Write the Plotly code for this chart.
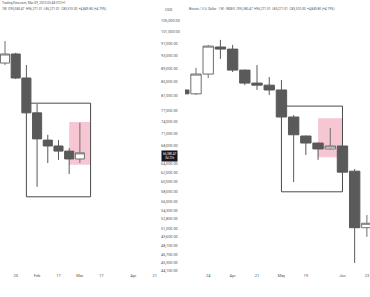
import math
import pandas as pd
import plotly.graph_objects as go

# ---------------- data: left panel (weekly) ----------------
left_dates = ["2025-01-13", "2025-01-20", "2025-01-27", "2025-02-03",
              "2025-02-10", "2025-02-17", "2025-02-24", "2025-03-03"]
left_open = [90700, 93600, 86100, 76300, 69400, 68000, 66800, 65000]
left_high = [97900, 94000, 90100, 78700, 70700, 69400, 67500, 73700]
left_low = [90100, 85800, 76000, 59000, 64100, 64800, 61700, 64100]
left_close = [93600, 86100, 76300, 69700, 68000, 66800, 65000, 66400]

left_tick_dates = ["2025-01-20", "2025-02-03", "2025-02-17", "2025-03-03",
                   "2025-03-17", "2025-04-07", "2025-04-21"]
left_tick_text = ["20", "Feb", "17", "Mar", "17", "Apr", "21"]

left_box_x = ["2025-01-27", "2025-03-10"]
left_box_y = [57000, 78900]
left_pink_x = ["2025-02-24", "2025-03-10"]
left_pink_y = [63700, 73900]

# ---------------- data: right panel (weekly) ----------------
right_dates = ["2025-03-10", "2025-03-17", "2025-03-24", "2025-03-31",
               "2025-04-07", "2025-04-14", "2025-04-21", "2025-04-28",
               "2025-05-05", "2025-05-12", "2025-05-19", "2025-05-26",
               "2025-06-02", "2025-06-09", "2025-06-16", "2025-06-23"]
right_open = [82600, 81500, 87300, 95900, 95200, 88500, 84600, 84000,
              82600, 75200, 70400, 68700, 67300, 68000, 62300, 51200]
right_high = [82600, 89200, 96600, 98300, 96600, 88700, 90100, 86400,
              85500, 75700, 70500, 68800, 72400, 68100, 62800, 53500]
right_low = [81500, 81200, 86100, 92000, 87900, 84000, 82600, 81200,
             75000, 60000, 65900, 64800, 67100, 62000, 45300, 49600]
right_close = [81500, 87300, 96200, 95200, 88500, 84600, 84000, 82600,
               75200, 70700, 68700, 67300, 68000, 62100, 51200, 52000]

right_tick_dates = ["2025-03-24", "2025-04-07", "2025-04-21", "2025-05-05",
                    "2025-05-19", "2025-06-09", "2025-06-23"]
right_tick_text = ["24", "Apr", "21", "May", "19", "Jun", "23"]

right_box_x = ["2025-05-05", "2025-06-09"]
right_box_y = [58000, 78100]
right_pink_x = ["2025-05-26", "2025-06-09"]
right_pink_y = [65400, 74900]

# price scale labels
price_ticks = [105000, 101000, 97000, 93000, 89000, 85000, 81000, 77000,
               74000, 71000, 68000, 64000, 62000, 60000, 58000, 56000,
               54300, 52800, 51000, 49600, 48100, 46700, 45300, 44100]
price_text = [f"{v:,.2f}" for v in price_ticks]

last_price_text = "66,380.47<br>3d 21h"
last_price = 65700

# ---------------- styles ----------------
W, H = 370, 297
PLOT_H = 272
DARK = "#5a5a5a"
WHITE_EDGE = "#6e6e6e"
PINK = "#f7c6d3"
BOX = "#4a4a4a"
TXT = "#555555"
FONT = "Roboto"

y_range = [math.log10(43900), math.log10(112900)]

fig = go.Figure()

candle_style = dict(
    increasing=dict(fillcolor="white", line=dict(color=WHITE_EDGE, width=1)),
    decreasing=dict(fillcolor=DARK, line=dict(color=DARK, width=1)),
    whiskerwidth=0,
    showlegend=False,
    hoverinfo="skip",
)

fig.add_trace(go.Candlestick(
    x=pd.to_datetime(left_dates), open=left_open, high=left_high,
    low=left_low, close=left_close, xaxis="x", yaxis="y", **candle_style))
fig.add_trace(go.Candlestick(
    x=pd.to_datetime(right_dates), open=right_open, high=right_high,
    low=right_low, close=right_close, xaxis="x2", yaxis="y2", **candle_style))

# rectangles (drawn below candles)
for xr, yr, (bx, by), (px, py_) in [
    ("x", "y", (left_box_x, left_box_y), (left_pink_x, left_pink_y)),
    ("x2", "y2", (right_box_x, right_box_y), (right_pink_x, right_pink_y)),
]:
    fig.add_shape(type="rect", xref=xr, yref=yr, x0=px[0], x1=px[1],
                  y0=py_[0], y1=py_[1], fillcolor=PINK, line=dict(width=0),
                  layer="below")
    fig.add_shape(type="rect", xref=xr, yref=yr, x0=bx[0], x1=bx[1],
                  y0=by[0], y1=by[1], fillcolor="rgba(0,0,0,0)",
                  line=dict(color=BOX, width=1), layer="below")

# axis ranges (pixel-calibrated)
l0 = pd.Timestamp(left_dates[0]) - pd.Timedelta(days=3.27)
l1 = l0 + pd.Timedelta(days=104.7)
r0 = pd.Timestamp(right_dates[1]) - pd.Timedelta(days=6.31)
r1 = r0 + pd.Timedelta(days=106.1)

axis_common = dict(showgrid=False, zeroline=False, showline=False, ticks="",
                   tickfont=dict(size=4, color=TXT, family=FONT))

fig.update_layout(
    width=W, height=H,
    margin=dict(l=0, r=0, t=0, b=H - PLOT_H),
    paper_bgcolor="white", plot_bgcolor="white",
    boxgap=0.15, boxgroupgap=0,
    xaxis=dict(domain=[0, 160 / W], range=[l0, l1], type="date",
               tickvals=pd.to_datetime(left_tick_dates), ticktext=left_tick_text,
               rangeslider=dict(visible=False), anchor="y", **axis_common),
    yaxis=dict(domain=[0, 1], type="log", range=y_range, side="right",
               tickvals=price_ticks, ticktext=price_text, anchor="x",
               showgrid=False, zeroline=False, showline=False, ticks="",
               tickfont=dict(size=3.8, color=TXT, family=FONT)),
    xaxis2=dict(domain=[185 / W, 1], range=[r0, r1], type="date",
                tickvals=pd.to_datetime(right_tick_dates), ticktext=right_tick_text,
                rangeslider=dict(visible=False), anchor="y2", **axis_common),
    yaxis2=dict(domain=[0, 1], type="log", range=y_range, anchor="x2",
                showticklabels=False, showgrid=False, zeroline=False,
                showline=False, ticks=""),
    hovermode=False,
)


def py(px):
    return 1 - px / PLOT_H


fig.add_annotation(xref="paper", yref="paper", x=163 / W, y=py(10),
                   text="USD", showarrow=False, xanchor="left", yanchor="middle",
                   font=dict(size=3.8, color=TXT, family=FONT))
fig.add_annotation(xref="paper", yref="paper", x=0, y=py(3.5),
                   text="TradingView.com, Mar 09, 2025 03:48 UTC+1",
                   showarrow=False, xanchor="left", yanchor="middle",
                   font=dict(size=3.2, color=TXT, family=FONT))
fig.add_annotation(xref="paper", yref="paper", x=0, y=py(9.5),
                   text="1W  O95,380.47  H96,271.01  L85,271.01  C83,510.00  +4,849.80 (+4.79%)",
                   showarrow=False, xanchor="left", yanchor="middle",
                   font=dict(size=3.2, color=TXT, family=FONT))
fig.add_annotation(xref="paper", yref="paper", x=187 / W, y=py(9.5),
                   text="Bitcoin / U.S. Dollar · 1W · INDEX  O95,380.47  H96,271.01  L85,271.01  C83,510.00  +4,849.80 (+4.79%)",
                   showarrow=False, xanchor="left", yanchor="middle",
                   font=dict(size=3.2, color=TXT, family=FONT))
fig.add_annotation(xref="paper", yref="y", x=161 / W, y=math.log10(last_price),
                   text=last_price_text, showarrow=False, xanchor="left",
                   yanchor="middle", bgcolor="#131722", borderpad=1,
                   font=dict(size=3, color="white", family=FONT))

fig.write_html("out.html")
